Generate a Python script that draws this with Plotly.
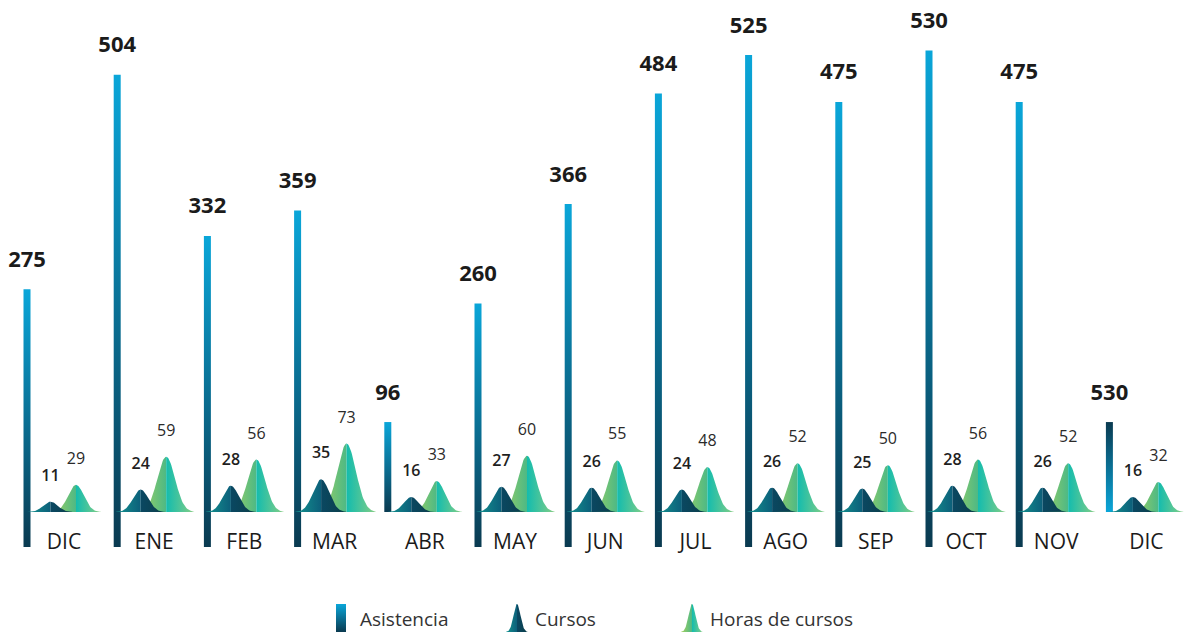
import numpy as np
import plotly.graph_objects as go

# ---------------- data ----------------
months = ["DIC", "ENE", "FEB", "MAR", "ABR", "MAY", "JUN", "JUL", "AGO", "SEP", "OCT", "NOV", "DIC"]
asistencia = [275, 504, 332, 359, 96, 260, 366, 484, 525, 475, 530, 475, 530]
# bar heights as drawn in the original graphic (last bar is drawn short)
asistencia_bar = [275, 504, 332, 359, 96, 260, 366, 484, 525, 475, 530, 475, 96]
bar_on_peak_baseline = [False, False, False, False, True, False, False, False, False, False, False, False, True]
bar_reversed = [False] * 12 + [True]
cursos = [11, 24, 28, 35, 16, 27, 26, 24, 26, 25, 28, 26, 16]
horas = [29, 59, 56, 73, 33, 60, 55, 48, 52, 50, 56, 52, 32]
legend_labels = ["Asistencia", "Cursos", "Horas de cursos"]

# ---------------- layout constants ----------------
W, H = 1191, 632
PX_X = 90.2          # px per group
X0 = 27              # px of first bar
PX_Y = 0.937         # px per unit
Y0PIX = 547          # px of zero
XR = [-X0 / PX_X, (W - X0) / PX_X]
YR = [-(H - Y0PIX) / PX_Y, Y0PIX / PX_Y]
PEAK_BASE = 35 / PX_Y
BAR_W = 7 / PX_X
OFF_C = 23.5 / PX_X
OFF_H = 49 / PX_X
FONT = "Open Sans"

BAR_LIGHT = "#0aa6d9"
BAR_DARK = "#0a3a50"
C_LEFT_A, C_LEFT_B = "#149490", "#0c5f7a"
C_RIGHT_A, C_RIGHT_B = "#0a4862", "#0b3d48"
H_LEFT_A, H_LEFT_B = "#a6d060", "#4db985"
H_RIGHT_A, H_RIGHT_B = "#13bcae", "#88ce84"

fig = go.Figure()


def sigma_px(h):
    return 6.9 + 0.032 * h


def half_peak(cx, h, side, cA, cB, sig, base, xaxis="x", yaxis="y", yscale=1.0):
    n = 40
    if side == "left":
        xs = np.linspace(cx - 3.2 * sig, cx, n)
    else:
        xs = np.linspace(cx, cx + 3.2 * sig, n)
    ys = base + yscale * h * np.exp(-0.5 * ((xs - cx) / sig) ** 2)
    px = np.concatenate([xs, [xs[-1], xs[0]]])
    py = np.concatenate([ys, [base, base]])
    fig.add_trace(go.Scatter(
        x=px, y=py, mode="lines", line=dict(width=0), fill="toself",
        fillgradient=dict(type="horizontal", colorscale=[[0, cA], [1, cB]]),
        xaxis=xaxis, yaxis=yaxis, hoverinfo="skip", showlegend=False))


for i in range(len(months)):
    # bar
    base = PEAK_BASE if bar_on_peak_baseline[i] else 0
    top = base + asistencia_bar[i]
    xl, xr = i - BAR_W / 2, i + BAR_W / 2
    cs = [[0, BAR_LIGHT], [1, BAR_DARK]] if bar_reversed[i] else [[0, BAR_DARK], [1, BAR_LIGHT]]
    fig.add_trace(go.Scatter(
        x=[xl, xr, xr, xl, xl], y=[base, base, top, top, base], mode="lines",
        line=dict(width=0), fill="toself",
        fillgradient=dict(type="vertical", colorscale=cs),
        hoverinfo="skip", showlegend=False))
    # horas peak (behind)
    ch = i + OFF_H
    sh = sigma_px(horas[i]) / PX_X
    half_peak(ch, horas[i], "left", H_LEFT_A, H_LEFT_B, sh, PEAK_BASE)
    half_peak(ch, horas[i], "right", H_RIGHT_A, H_RIGHT_B, sh, PEAK_BASE)
    # cursos peak (front)
    cc = i + OFF_C
    sc = sigma_px(cursos[i]) / PX_X
    half_peak(cc, cursos[i], "left", C_LEFT_A, C_LEFT_B, sc, PEAK_BASE)
    half_peak(cc, cursos[i], "right", C_RIGHT_A, C_RIGHT_B, sc, PEAK_BASE)

idx = np.arange(len(months))
bar_tops = [(PEAK_BASE if b else 0) + v for v, b in zip(asistencia_bar, bar_on_peak_baseline)]

# value labels
fig.add_trace(go.Scatter(
    x=idx, y=[t + 28 / PX_Y for t in bar_tops], mode="text",
    text=[str(v) for v in asistencia],
    textfont=dict(family=FONT, size=22, color="#1b1b1b", weight="bold"),
    hoverinfo="skip", showlegend=False))
fig.add_trace(go.Scatter(
    x=idx + OFF_C, y=[PEAK_BASE + v + 25 / PX_Y for v in cursos], mode="text",
    text=[str(v) for v in cursos],
    textfont=dict(family=FONT, size=16, color="#1f1f1f", weight=600),
    hoverinfo="skip", showlegend=False))
fig.add_trace(go.Scatter(
    x=idx + OFF_H, y=[PEAK_BASE + v + 25 / PX_Y for v in horas], mode="text",
    text=[str(v) for v in horas],
    textfont=dict(family=FONT, size=16, color="#2a2a2a"),
    hoverinfo="skip", showlegend=False))
fig.add_trace(go.Scatter(
    x=idx + 37 / PX_X, y=[3 / PX_Y] * len(months), mode="text",
    text=months,
    textfont=dict(family=FONT, size=21, color="#1b1b1b", weight=500),
    hoverinfo="skip", showlegend=False))

# ---------------- custom legend (pixel axes) ----------------
fig.add_trace(go.Scatter(
    x=[336, 346, 346, 336, 336], y=[632, 632, 604, 604, 632], mode="lines",
    line=dict(width=0), fill="toself",
    fillgradient=dict(type="vertical", colorscale=[[0, BAR_DARK], [1, BAR_LIGHT]]),
    xaxis="x2", yaxis="y2", hoverinfo="skip", showlegend=False))
half_peak(517, 28, "left", C_LEFT_A, C_LEFT_B, 3.4, 632, "x2", "y2", -1)
half_peak(517, 28, "right", C_RIGHT_A, C_RIGHT_B, 3.4, 632, "x2", "y2", -1)
half_peak(692, 28, "left", H_LEFT_A, H_LEFT_B, 3.4, 632, "x2", "y2", -1)
half_peak(692, 28, "right", H_RIGHT_A, H_RIGHT_B, 3.4, 632, "x2", "y2", -1)
fig.add_trace(go.Scatter(
    x=[360, 535, 710], y=[621, 621, 621], mode="text",
    text=legend_labels, textposition="middle right",
    textfont=dict(family=FONT, size=19, color="#333333"),
    xaxis="x2", yaxis="y2", hoverinfo="skip", showlegend=False))

fig.update_layout(
    width=W, height=H, margin=dict(l=0, r=0, t=0, b=0),
    paper_bgcolor="white", plot_bgcolor="white", showlegend=False, hovermode=False,
    xaxis=dict(range=XR, visible=False, fixedrange=True),
    yaxis=dict(range=YR, visible=False, fixedrange=True),
    xaxis2=dict(range=[0, W], visible=False, overlaying="x", fixedrange=True),
    yaxis2=dict(range=[H, 0], visible=False, overlaying="y", fixedrange=True),
)
fig.write_html(
    "out.html",
    config={"displayModeBar": False, "staticPlot": True},
    post_script="document.body.style.margin='0';document.body.style.overflow='hidden';",
)
